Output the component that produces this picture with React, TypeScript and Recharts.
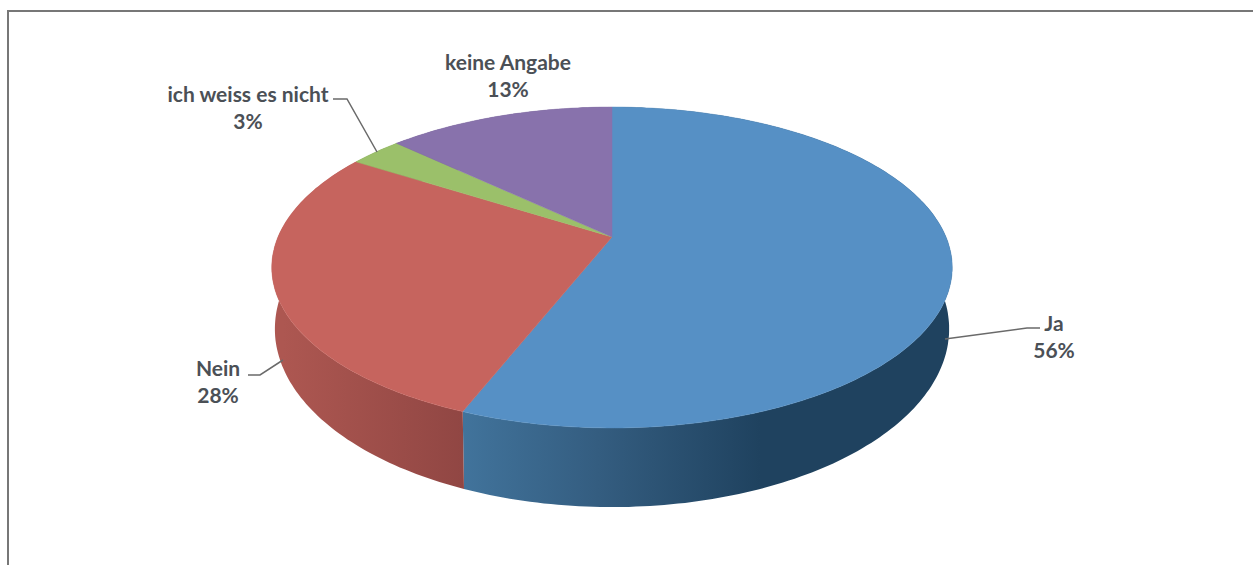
import { PieChart, Pie, Cell } from 'recharts';

const answers = ['Ja', 'Nein', 'ich weiss es nicht', 'keine Angabe'];
const shares = [56, 28, 3, 13];

const TOP_COLORS = ['#5690c5', '#c6645e', '#9bc06a', '#8872ac'];
const WALL_COLORS = ['url(#wallBlue)', 'url(#wallRed)', '#6f8a4c', '#5f4f7a'];
const FONT = 'Lato, sans-serif';
const TEXT_COLOR = '#4b5056';

// label anchor and leader line per slice, in page pixels
const LABEL_LAYOUT = [
  { x: 1054, y: 331, leader: 'M945 339 L1027 328 L1040 328' },
  { x: 218, y: 376, leader: 'M283 360 L260 375 L248 375' },
  { x: 248, y: 102, leader: 'M377 152 L347 99 L333 99' },
  { x: 508, y: 70, leader: '' },
];

const chartData = answers.map((name, i) => ({ name, value: shares[i] }));

// perspective strength of the tilted disc
const TILT = 0.19;

// maps a clockwise angle from 12 o'clock onto the tilted disc
function project(deg: number, cx: number, cy: number, r: number, squash: number) {
  const t = (deg * Math.PI) / 180;
  const u = Math.sin(t);
  const v = -Math.cos(t);
  const w = 1 - TILT * v;
  return [cx + (r * u) / w, cy + (r * squash * v) / w];
}

function rim(a0: number, a1: number, cx: number, cy: number, r: number, squash: number) {
  const steps = Math.max(2, Math.ceil(Math.abs(a1 - a0)));
  const pts: number[][] = [];
  for (let i = 0; i <= steps; i++) {
    pts.push(project(a0 + ((a1 - a0) * i) / steps, cx, cy, r, squash));
  }
  return pts;
}

const toPath = (pts: number[][]) =>
  'M' + pts.map((p) => `${p[0].toFixed(1)} ${p[1].toFixed(1)}`).join(' L') + ' Z';

function TopSlice(props: any) {
  const { cx, cy, outerRadius, startAngle, endAngle, fill } = props;
  const pts = [[cx, cy], ...rim(90 - startAngle, 90 - endAngle, cx, cy, outerRadius, 0.463)];
  return <path d={toPath(pts)} fill={fill} stroke={fill} strokeWidth={0.5} />;
}

function WallSlice(props: any) {
  const { cx, cy, outerRadius, startAngle, endAngle, fill } = props;
  const a0 = 90 - startAngle;
  const a1 = 90 - endAngle;
  // upper edge follows the top disc, lower edge the smaller disc underneath
  const upper = rim(a0, a1, cx, 237, 334, 0.463);
  const lower = rim(a1, a0, cx, cy, outerRadius, 0.519);
  return <path d={toPath([...upper, ...lower])} fill={fill} stroke="none" />;
}

function renderLabel(props: any) {
  const { index, name, value } = props;
  const spot = LABEL_LAYOUT[index];
  return (
    <g>
      {spot.leader && <path d={spot.leader} fill="none" stroke="#6a6a6a" strokeWidth={1.5} />}
      <text x={spot.x} y={spot.y} textAnchor="middle" fontFamily={FONT} fontSize={21} fontWeight={700} fill={TEXT_COLOR}>
        {name}
      </text>
      <text x={spot.x} y={spot.y + 27} textAnchor="middle" fontFamily={FONT} fontSize={21} fontWeight={700} fill={TEXT_COLOR}>
        {value}%
      </text>
    </g>
  );
}

export default function App() {
  return (
    <div style={{ position: 'absolute', left: 0, top: 0, width: 1253, height: 565, overflow: 'hidden', background: '#fff' }}>
      <div style={{ position: 'absolute', left: 7, top: 10, width: 1253, height: 565, borderTop: '2px solid #777', borderLeft: '2px solid #777' }} />
      <div style={{ position: 'absolute', left: 0, top: 0 }}>
        <PieChart width={1253} height={565} margin={{ top: 0, right: 0, bottom: 0, left: 0 }}>
          <defs>
            <linearGradient id="wallBlue" gradientUnits="userSpaceOnUse" x1={465} y1={0} x2={760} y2={0}>
              <stop offset="0%" stopColor="#41739b" />
              <stop offset="45%" stopColor="#345d80" />
              <stop offset="100%" stopColor="#1f425f" />
            </linearGradient>
            <linearGradient id="wallRed" gradientUnits="userSpaceOnUse" x1={283} y1={0} x2={467} y2={0}>
              <stop offset="0%" stopColor="#ad5751" />
              <stop offset="100%" stopColor="#904643" />
            </linearGradient>
          </defs>
          <Pie
            data={chartData}
            dataKey="value"
            nameKey="name"
            cx={612}
            cy={295}
            outerRadius={331}
            startAngle={90}
            endAngle={-270}
            stroke="none"
            shape={WallSlice}
            isAnimationActive={false}
          >
            {chartData.map((entry, index) => (
              <Cell key={`wall-${index}`} fill={WALL_COLORS[index]} />
            ))}
          </Pie>
          <Pie
            data={chartData}
            dataKey="value"
            nameKey="name"
            cx={612}
            cy={237}
            outerRadius={334}
            startAngle={90}
            endAngle={-270}
            stroke="none"
            shape={TopSlice}
            label={renderLabel}
            labelLine={false}
            isAnimationActive={false}
          >
            {chartData.map((entry, index) => (
              <Cell key={`top-${index}`} fill={TOP_COLORS[index]} />
            ))}
          </Pie>
        </PieChart>
      </div>
    </div>
  );
}
